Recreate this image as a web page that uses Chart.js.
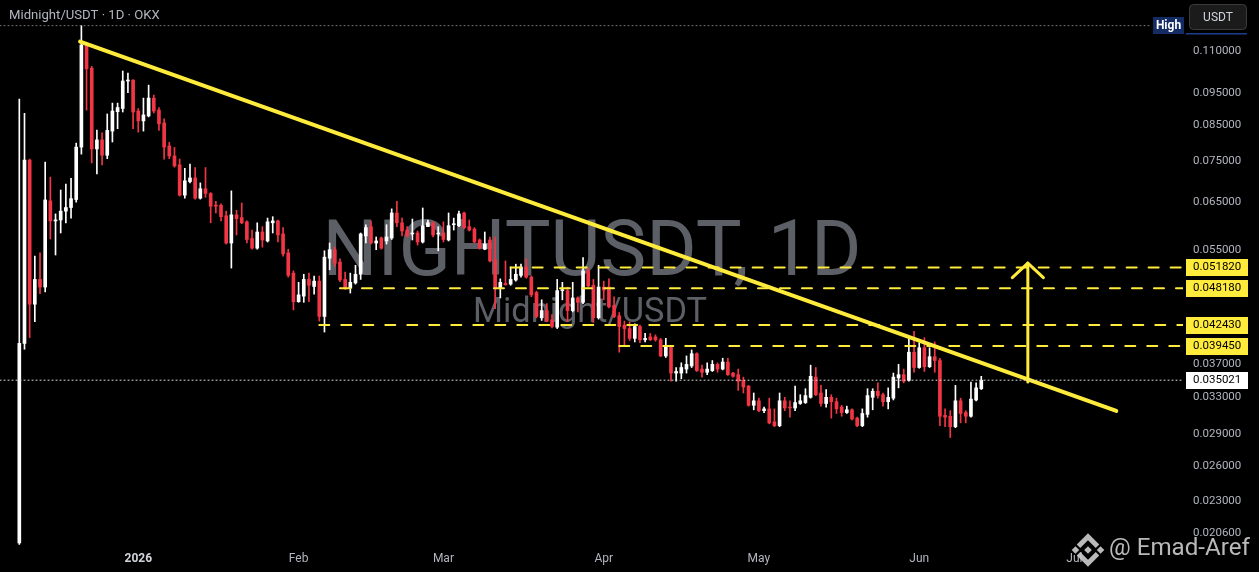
<!DOCTYPE html>
<html>
<head>
<meta charset="utf-8">
<title>Midnight/USDT 1D OKX</title>
<script src="https://cdn.jsdelivr.net/npm/chart.js@4.4.1/dist/chart.umd.min.js"></script>
<style>
  html, body { margin: 0; padding: 0; background: #000; }
  #wrap { width: 1259px; height: 572px; }
</style>
</head>
<body>
<div id="wrap"><canvas id="chart" width="1259" height="572"></canvas></div>
<script>
// daily candles, first one is 2025-12-09
var opens = [
  0.0199, 0.0398, 0.0752, 0.0456, 0.0497, 0.0484, 0.0653, 0.0609, 0.0611, 0.0630,
  0.0638, 0.0656, 0.0787, 0.1122, 0.1035, 0.0782, 0.0807, 0.0765, 0.0832, 0.0890,
  0.0900, 0.0990, 0.0993, 0.0892, 0.0862, 0.0877, 0.0933, 0.0895, 0.0856, 0.0790,
  0.0763, 0.0740, 0.0666, 0.0698, 0.0707, 0.0659, 0.0681, 0.0670, 0.0643, 0.0643,
  0.0620, 0.0564, 0.0622, 0.0616, 0.0607, 0.0573, 0.0554, 0.0586, 0.0568, 0.0605,
  0.0609, 0.0582, 0.0545, 0.0508, 0.0460, 0.0469, 0.0497, 0.0485, 0.0494, 0.0437,
  0.0535, 0.0551, 0.0528, 0.0497, 0.0482, 0.0491, 0.0506, 0.0578, 0.0597, 0.0564,
  0.0574, 0.0568, 0.0574, 0.0626, 0.0605, 0.0590, 0.0582, 0.0584, 0.0566, 0.0597,
  0.0605, 0.0582, 0.0584, 0.0570, 0.0601, 0.0599, 0.0626, 0.0597, 0.0592, 0.0570,
  0.0552, 0.0570, 0.0532, 0.0482, 0.0490, 0.0489, 0.0496, 0.0504, 0.0519, 0.0501,
  0.0475, 0.0435, 0.0446, 0.0432, 0.0421, 0.0478, 0.0478, 0.0446, 0.0466, 0.0459,
  0.0512, 0.0487, 0.0435, 0.0484, 0.0484, 0.0454, 0.0438, 0.0424, 0.0419, 0.0405,
  0.0422, 0.0403, 0.0407, 0.0407, 0.0403, 0.0381, 0.0393, 0.0359, 0.0359, 0.0364,
  0.0368, 0.0384, 0.0364, 0.0360, 0.0362, 0.0370, 0.0364, 0.0373, 0.0359, 0.0357,
  0.0350, 0.0343, 0.0321, 0.0326, 0.0315, 0.0317, 0.0303, 0.0299, 0.0326, 0.0319,
  0.0318, 0.0323, 0.0324, 0.0330, 0.0354, 0.0335, 0.0323, 0.0330, 0.0325, 0.0319,
  0.0313, 0.0316, 0.0307, 0.0299, 0.0311, 0.0330, 0.0337, 0.0333, 0.0325, 0.0329,
  0.0353, 0.0357, 0.0350, 0.0386, 0.0366, 0.0392, 0.0367, 0.0380, 0.0375, 0.0310,
  0.0309, 0.0298, 0.0326, 0.0313, 0.0309, 0.0327, 0.0340
];
var highs = [
  0.0930, 0.0885, 0.0755, 0.0539, 0.0545, 0.0747, 0.0709, 0.0624, 0.0678, 0.0692,
  0.0706, 0.0798, 0.1200, 0.1131, 0.1042, 0.0835, 0.0827, 0.0883, 0.0917, 0.0917,
  0.1025, 0.1018, 0.0995, 0.0900, 0.0933, 0.0976, 0.0943, 0.0903, 0.0868, 0.0800,
  0.0786, 0.0755, 0.0731, 0.0742, 0.0733, 0.0695, 0.0733, 0.0672, 0.0652, 0.0646,
  0.0630, 0.0676, 0.0632, 0.0648, 0.0609, 0.0590, 0.0605, 0.0597, 0.0615, 0.0618,
  0.0611, 0.0595, 0.0552, 0.0512, 0.0492, 0.0506, 0.0508, 0.0503, 0.0503, 0.0549,
  0.0564, 0.0556, 0.0534, 0.0510, 0.0508, 0.0522, 0.0584, 0.0601, 0.0609, 0.0576,
  0.0576, 0.0601, 0.0635, 0.0652, 0.0615, 0.0597, 0.0613, 0.0588, 0.0637, 0.0611,
  0.0607, 0.0597, 0.0607, 0.0626, 0.0615, 0.0630, 0.0628, 0.0611, 0.0595, 0.0572,
  0.0586, 0.0576, 0.0576, 0.0498, 0.0530, 0.0519, 0.0524, 0.0524, 0.0534, 0.0503,
  0.0477, 0.0463, 0.0457, 0.0440, 0.0497, 0.0492, 0.0484, 0.0492, 0.0468, 0.0536,
  0.0517, 0.0497, 0.0522, 0.0494, 0.0498, 0.0468, 0.0443, 0.0430, 0.0429, 0.0426,
  0.0424, 0.0412, 0.0412, 0.0410, 0.0405, 0.0405, 0.0395, 0.0366, 0.0372, 0.0381,
  0.0389, 0.0385, 0.0369, 0.0372, 0.0375, 0.0372, 0.0378, 0.0378, 0.0360, 0.0364,
  0.0354, 0.0344, 0.0335, 0.0329, 0.0319, 0.0329, 0.0317, 0.0335, 0.0330, 0.0326,
  0.0343, 0.0333, 0.0340, 0.0369, 0.0366, 0.0344, 0.0339, 0.0333, 0.0329, 0.0321,
  0.0320, 0.0317, 0.0308, 0.0317, 0.0340, 0.0340, 0.0347, 0.0335, 0.0341, 0.0359,
  0.0370, 0.0364, 0.0405, 0.0415, 0.0399, 0.0406, 0.0392, 0.0400, 0.0378, 0.0317,
  0.0315, 0.0344, 0.0329, 0.0315, 0.0348, 0.0347, 0.0355
];
var lows = [
  0.0198, 0.0390, 0.0406, 0.0429, 0.0473, 0.0476, 0.0572, 0.0541, 0.0584, 0.0605,
  0.0615, 0.0650, 0.0768, 0.0895, 0.0745, 0.0717, 0.0740, 0.0756, 0.0801, 0.0839,
  0.0889, 0.0951, 0.0839, 0.0829, 0.0832, 0.0874, 0.0886, 0.0834, 0.0755, 0.0756,
  0.0734, 0.0664, 0.0659, 0.0695, 0.0657, 0.0657, 0.0661, 0.0605, 0.0626, 0.0609,
  0.0562, 0.0517, 0.0580, 0.0603, 0.0564, 0.0552, 0.0552, 0.0556, 0.0566, 0.0584,
  0.0566, 0.0539, 0.0501, 0.0447, 0.0459, 0.0459, 0.0460, 0.0472, 0.0430, 0.0414,
  0.0514, 0.0520, 0.0493, 0.0480, 0.0474, 0.0489, 0.0497, 0.0564, 0.0562, 0.0551,
  0.0552, 0.0562, 0.0571, 0.0597, 0.0578, 0.0576, 0.0570, 0.0560, 0.0564, 0.0597,
  0.0576, 0.0549, 0.0566, 0.0568, 0.0590, 0.0597, 0.0593, 0.0588, 0.0564, 0.0552,
  0.0551, 0.0528, 0.0449, 0.0466, 0.0487, 0.0487, 0.0494, 0.0501, 0.0499, 0.0468,
  0.0435, 0.0431, 0.0429, 0.0420, 0.0419, 0.0463, 0.0429, 0.0444, 0.0444, 0.0457,
  0.0484, 0.0428, 0.0433, 0.0463, 0.0450, 0.0435, 0.0386, 0.0394, 0.0402, 0.0400,
  0.0399, 0.0400, 0.0402, 0.0401, 0.0380, 0.0379, 0.0349, 0.0349, 0.0352, 0.0359,
  0.0366, 0.0361, 0.0354, 0.0357, 0.0361, 0.0360, 0.0363, 0.0356, 0.0354, 0.0338,
  0.0335, 0.0320, 0.0316, 0.0314, 0.0313, 0.0301, 0.0298, 0.0298, 0.0315, 0.0308,
  0.0315, 0.0322, 0.0323, 0.0329, 0.0332, 0.0320, 0.0319, 0.0307, 0.0312, 0.0309,
  0.0312, 0.0305, 0.0298, 0.0298, 0.0308, 0.0316, 0.0329, 0.0320, 0.0317, 0.0327,
  0.0341, 0.0347, 0.0349, 0.0360, 0.0365, 0.0361, 0.0366, 0.0360, 0.0299, 0.0298,
  0.0287, 0.0297, 0.0302, 0.0302, 0.0308, 0.0326, 0.0339
];
var closes = [
  0.0398, 0.0752, 0.0456, 0.0497, 0.0484, 0.0655, 0.0609, 0.0611, 0.0630, 0.0638,
  0.0658, 0.0787, 0.1122, 0.1033, 0.0782, 0.0807, 0.0765, 0.0834, 0.0892, 0.0903,
  0.0990, 0.0993, 0.0889, 0.0862, 0.0880, 0.0933, 0.0892, 0.0853, 0.0787, 0.0763,
  0.0737, 0.0666, 0.0700, 0.0707, 0.0659, 0.0681, 0.0670, 0.0641, 0.0641, 0.0618,
  0.0564, 0.0622, 0.0614, 0.0605, 0.0571, 0.0554, 0.0586, 0.0570, 0.0607, 0.0609,
  0.0580, 0.0543, 0.0504, 0.0460, 0.0471, 0.0497, 0.0487, 0.0494, 0.0437, 0.0537,
  0.0551, 0.0526, 0.0496, 0.0481, 0.0492, 0.0506, 0.0582, 0.0595, 0.0564, 0.0568,
  0.0554, 0.0576, 0.0626, 0.0605, 0.0588, 0.0578, 0.0584, 0.0566, 0.0599, 0.0605,
  0.0580, 0.0584, 0.0571, 0.0599, 0.0603, 0.0624, 0.0595, 0.0590, 0.0566, 0.0554,
  0.0562, 0.0530, 0.0481, 0.0492, 0.0488, 0.0497, 0.0506, 0.0519, 0.0501, 0.0471,
  0.0437, 0.0446, 0.0430, 0.0422, 0.0478, 0.0479, 0.0446, 0.0466, 0.0459, 0.0512,
  0.0486, 0.0435, 0.0484, 0.0479, 0.0452, 0.0437, 0.0422, 0.0419, 0.0405, 0.0422,
  0.0403, 0.0405, 0.0403, 0.0403, 0.0381, 0.0395, 0.0359, 0.0361, 0.0366, 0.0370,
  0.0384, 0.0362, 0.0360, 0.0364, 0.0370, 0.0364, 0.0373, 0.0357, 0.0355, 0.0349,
  0.0342, 0.0321, 0.0326, 0.0315, 0.0317, 0.0302, 0.0299, 0.0326, 0.0318, 0.0318,
  0.0324, 0.0326, 0.0332, 0.0355, 0.0333, 0.0323, 0.0330, 0.0325, 0.0317, 0.0313,
  0.0316, 0.0306, 0.0299, 0.0312, 0.0332, 0.0337, 0.0332, 0.0325, 0.0330, 0.0354,
  0.0357, 0.0349, 0.0386, 0.0366, 0.0392, 0.0367, 0.0380, 0.0375, 0.0309, 0.0308,
  0.0298, 0.0326, 0.0312, 0.0309, 0.0328, 0.0341, 0.035021
];

// x axis: day number counted from 2025-12-09
var monthTickDays = [23, 54, 82, 113, 143, 174, 204];
var monthTickLabels = ['2026', 'Feb', 'Mar', 'Apr', 'May', 'Jun', 'Jul'];
var priceTicks = [0.110, 0.095, 0.085, 0.075, 0.065, 0.055, 0.037, 0.033, 0.029, 0.026, 0.023, 0.0206];
var viewDays = [-3.735, 225.0];
var viewPrices = [0.019553, 0.13118];

// drawings on the chart
var levelPrices = [0.05182, 0.04818, 0.04243, 0.03945];
var levelFromDays = [95, 62, 58, 116];
var lastPrice = 0.035021;
var highPrice = 0.1200;
var trendDays = [11.75, 212.1];
var trendPrices = [0.1135, 0.03147];
var arrowDays = [195, 195];
var arrowPrices = [0.0348, 0.0526];
var arrowHeadDays = [192, 195, 198];
var arrowHeadPrices = [0.0500, 0.0526, 0.0500];

var UP = '#ffffff';
var DOWN = '#f23645';
var YELLOW = '#ffeb3b';
var AXIS_TEXT = '#b2b5be';
var FONT = 'Roboto';

var wickData = [], bodyData = [], candleColors = [];
for (var i = 0; i < opens.length; i++) {
    wickData.push({ x: i, y: [lows[i], highs[i]] });
    bodyData.push({ x: i, y: [Math.min(opens[i], closes[i]), Math.max(opens[i], closes[i])] });
    candleColors.push(closes[i] >= opens[i] ? UP : DOWN);
}

function pts(xs, ys) {
    var out = [];
    for (var k = 0; k < xs.length; k++) out.push({ x: xs[k], y: ys[k] });
    return out;
}

function lineSet(data, color, width, dash) {
    return {
        type: 'line',
        data: data,
        borderColor: color,
        borderWidth: width,
        borderDash: dash || [],
        borderCapStyle: 'round',
        borderJoinStyle: 'round',
        pointRadius: 0,
        fill: false,
        tension: 0,
        order: 0
    };
}

var datasets = [
    { data: wickData, backgroundColor: candleColors, barThickness: 1, grouped: false, order: 3 },
    { data: bodyData, backgroundColor: candleColors, barThickness: 3, minBarLength: 1, grouped: false, order: 2 },
    lineSet(pts([viewDays[0], 218.8], [highPrice, highPrice]), '#787b86', 1, [1, 3]),
    lineSet(pts([viewDays[0], viewDays[1]], [lastPrice, lastPrice]), '#e0e0e0', 1, [1, 3])
];
for (var k = 0; k < levelPrices.length; k++) {
    datasets.push(lineSet(pts([levelFromDays[k], viewDays[1]], [levelPrices[k], levelPrices[k]]), YELLOW, 2, [10, 12]));
}
datasets.push(lineSet(pts(trendDays, trendPrices), YELLOW, 4));
datasets.push(lineSet(pts(arrowDays, arrowPrices), YELLOW, 3));
datasets.push(lineSet(pts(arrowHeadDays, arrowHeadPrices), YELLOW, 3));

function fitSize(ctx, text, weight, width) {
    ctx.font = weight + ' 100px ' + FONT;
    return 100 * width / ctx.measureText(text).width;
}

var decorations = {
    id: 'decorations',
    beforeDraw: function(chart) {
        var ctx = chart.ctx;
        ctx.save();
        ctx.fillStyle = '#000';
        ctx.fillRect(0, 0, chart.width, chart.height);
        ctx.restore();
    },
    beforeDatasetsDraw: function(chart) {
        var ctx = chart.ctx;
        ctx.save();
        ctx.fillStyle = '#5c5f66';
        ctx.textAlign = 'center';
        ctx.textBaseline = 'alphabetic';
        var s1 = fitSize(ctx, 'NIGHTUSDT, 1D', 'normal', 539);
        ctx.font = 'normal ' + s1 + 'px ' + FONT;
        ctx.fillText('NIGHTUSDT, 1D', 592, 275);
        var s2 = fitSize(ctx, 'Midnight/USDT', 'normal', 234);
        ctx.font = 'normal ' + s2 + 'px ' + FONT;
        ctx.fillText('Midnight/USDT', 590, 322);
        ctx.restore();
    },
    afterDraw: function(chart) {
        var ctx = chart.ctx;
        var area = chart.chartArea;
        var y = chart.scales.y;
        ctx.save();

        // title
        ctx.fillStyle = AXIS_TEXT;
        ctx.textBaseline = 'middle';
        ctx.textAlign = 'left';
        ctx.font = 'normal ' + fitSize(ctx, 'Midnight/USDT · 1D · OKX', 'normal', 151) + 'px ' + FONT;
        ctx.fillText('Midnight/USDT · 1D · OKX', 9, 16);

        // price labels on the axis
        function tag(v, bg) {
            var py = Math.round(y.getPixelForValue(v));
            ctx.fillStyle = bg;
            ctx.fillRect(area.right + 3, py - 8, 62, 17);
            ctx.fillStyle = '#000';
            ctx.font = 'normal 11.5px ' + FONT;
            ctx.textAlign = 'left';
            ctx.textBaseline = 'middle';
            ctx.fillText(v.toFixed(6), area.right + 10, py + 0.5);
        }
        levelPrices.forEach(function(v) { tag(v, YELLOW); });
        tag(lastPrice, '#ffffff');

        // High marker and currency button
        ctx.fillStyle = '#142b63';
        ctx.fillRect(1153, 17, 31, 17);
        ctx.fillStyle = '#ffffff';
        ctx.font = 'bold 12px ' + FONT;
        ctx.textAlign = 'center';
        ctx.fillText('High', 1168.5, 26);
        ctx.fillStyle = '#1d3d8f';
        ctx.fillRect(1186, 33, 61, 1.5);
        ctx.beginPath();
        ctx.roundRect(1189.5, 4.5, 57, 25, 4);
        ctx.fillStyle = '#1b1b1b';
        ctx.fill();
        ctx.strokeStyle = '#3b3b3b';
        ctx.lineWidth = 1;
        ctx.stroke();
        ctx.fillStyle = '#d1d4dc';
        ctx.font = 'normal 12px ' + FONT;
        ctx.fillText('USDT', 1218, 17.5);

        // author mark, bottom right
        var cx = 1088, cy = 550, s = 19;
        ctx.fillStyle = 'rgba(205,205,205,0.9)';
        ctx.strokeStyle = 'rgba(205,205,205,0.9)';
        function diamond(x0, y0, r) {
            ctx.beginPath();
            ctx.moveTo(x0, y0 - r); ctx.lineTo(x0 + r, y0); ctx.lineTo(x0, y0 + r); ctx.lineTo(x0 - r, y0);
            ctx.closePath();
            ctx.fill();
        }
        diamond(cx, cy, 0.2 * s);
        diamond(cx - 0.66 * s, cy, 0.2 * s);
        diamond(cx + 0.66 * s, cy, 0.2 * s);
        ctx.lineWidth = 0.26 * s;
        ctx.lineCap = 'butt';
        ctx.beginPath();
        ctx.moveTo(cx - 0.5 * s, cy - 0.2 * s); ctx.lineTo(cx, cy - 0.7 * s); ctx.lineTo(cx + 0.5 * s, cy - 0.2 * s);
        ctx.stroke();
        ctx.beginPath();
        ctx.moveTo(cx - 0.5 * s, cy + 0.2 * s); ctx.lineTo(cx, cy + 0.7 * s); ctx.lineTo(cx + 0.5 * s, cy + 0.2 * s);
        ctx.stroke();
        ctx.textAlign = 'left';
        ctx.textBaseline = 'alphabetic';
        ctx.font = 'normal ' + fitSize(ctx, '@ Emad-Aref', 'normal', 141) + 'px ' + FONT;
        ctx.fillText('@ Emad-Aref', 1109, 555);
        ctx.restore();
    }
};

var chart = new Chart(document.getElementById('chart'), {
    type: 'bar',
    data: { datasets: datasets },
    options: {
        responsive: false,
        animation: false,
        devicePixelRatio: 1,
        events: [],
        layout: { padding: 0 },
        plugins: { legend: { display: false }, tooltip: { enabled: false } },
        scales: {
            x: {
                type: 'linear',
                min: viewDays[0],
                max: viewDays[1],
                bounds: 'data',
                offset: false,
                grid: { display: false, drawTicks: false },
                border: { display: false },
                afterBuildTicks: function(s) {
                    s.ticks = monthTickDays.map(function(d) { return { value: d }; });
                },
                afterFit: function(s) {
                    s.height = 24;
                    s.paddingLeft = 0;
                    s.paddingRight = 0;
                },
                ticks: {
                    autoSkip: false,
                    maxRotation: 0,
                    padding: 4,
                    color: function(c) { return c.index === 0 ? '#d1d4dc' : AXIS_TEXT; },
                    font: function(c) {
                        return { family: FONT, size: 12, weight: c.index === 0 ? 'bold' : 'normal' };
                    },
                    callback: function(v, idx) { return monthTickLabels[idx]; }
                }
            },
            y: {
                type: 'logarithmic',
                position: 'right',
                min: viewPrices[0],
                max: viewPrices[1],
                bounds: 'data',
                grid: { display: false, drawTicks: false },
                border: { display: false },
                afterBuildTicks: function(s) {
                    s.ticks = priceTicks.map(function(v) { return { value: v }; });
                },
                afterFit: function(s) {
                    s.width = 76;
                    s.paddingTop = 0;
                    s.paddingBottom = 0;
                },
                ticks: {
                    padding: 10,
                    crossAlign: 'near',
                    color: AXIS_TEXT,
                    font: { family: FONT, size: 11.5 },
                    callback: function(v) { return Number(v).toFixed(6); }
                }
            }
        }
    },
    plugins: [decorations]
});
</script>
</body>
</html>
